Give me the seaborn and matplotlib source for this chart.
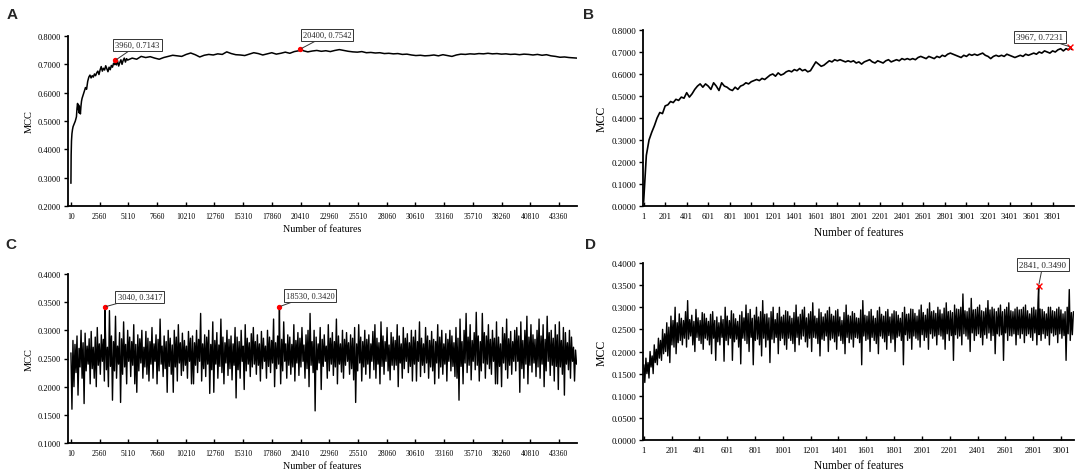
import numpy as np
import matplotlib
matplotlib.use("Agg")
import matplotlib.pyplot as plt
import seaborn as sns
from matplotlib.ticker import FormatStrFormatter

sns.set_theme(style="white")
plt.rcParams["font.family"] = ["Liberation Serif", "DejaVu Serif"]

# ---------------- Panel A data ----------------
a_feat_head = [10, 30, 60, 100, 150, 200, 300, 400, 500,
               550, 600, 650, 700, 750, 800, 850, 900, 950, 1000,
               1100, 1200, 1300, 1400, 1500, 1600, 1700, 1800, 1900, 2000,
               2100, 2200, 2300, 2400, 2500, 2600, 2700, 2800, 2900, 3000,
               3100, 3200, 3300, 3400, 3500, 3600, 3700, 3800, 3900, 3960,
               4050, 4150, 4250, 4350, 4450, 4550, 4650, 4750, 4850, 4950]
a_mcc_head = [0.280, 0.380, 0.430, 0.455, 0.470, 0.480, 0.490, 0.500, 0.515,
              0.545, 0.562, 0.540, 0.556, 0.528, 0.548, 0.525, 0.552, 0.570, 0.580,
              0.592, 0.605, 0.618, 0.612, 0.640, 0.655, 0.662, 0.652, 0.660, 0.655,
              0.666, 0.660, 0.670, 0.676, 0.664, 0.680, 0.692, 0.676, 0.686, 0.680,
              0.695, 0.684, 0.674, 0.690, 0.681, 0.696, 0.690, 0.704, 0.699, 0.7143,
              0.698, 0.712, 0.694, 0.706, 0.716, 0.700, 0.714, 0.722, 0.708, 0.720]
a_feat_tail = list(range(5050, 44651, 400)) + [20400, 44950]
a_mcc_tail = [0.715, 0.722, 0.718, 0.728, 0.724, 0.727, 0.722, 0.718, 0.724, 0.728,
              0.732, 0.730, 0.728, 0.735, 0.740, 0.734, 0.726, 0.732, 0.735, 0.733,
              0.737, 0.735, 0.744, 0.738, 0.734, 0.733, 0.731, 0.736, 0.741, 0.738,
              0.733, 0.737, 0.741, 0.736, 0.739, 0.743, 0.739, 0.745, 0.748, 0.748,
              0.744, 0.747, 0.749, 0.746, 0.748, 0.745, 0.749, 0.752, 0.749, 0.746,
              0.744, 0.743, 0.745, 0.741, 0.742, 0.740, 0.741, 0.738, 0.739, 0.737,
              0.738, 0.735, 0.736, 0.733, 0.731, 0.732, 0.730, 0.731, 0.733, 0.730,
              0.734, 0.731, 0.728, 0.733, 0.736, 0.735, 0.737, 0.736, 0.738, 0.737,
              0.739, 0.737, 0.738, 0.736, 0.737, 0.735, 0.736, 0.734, 0.736, 0.735,
              0.733, 0.735, 0.732, 0.734, 0.730, 0.728, 0.725, 0.726, 0.724, 0.723,
              0.7542, 0.722]
a_peaks_x = [3960, 20400]
a_peaks_y = [0.7143, 0.7542]
a_peak_labels = ["3960, 0.7143", "20400, 0.7542"]

# ---------------- Panel B data ----------------
b_feat_grid = list(range(1, 3952, 25))
b_mcc_grid = [0.020, 0.230, 0.300, 0.335, 0.365, 0.400, 0.425, 0.420, 0.455, 0.460,
              0.475, 0.470, 0.485, 0.480, 0.495, 0.490, 0.515, 0.495, 0.510, 0.530,
              0.545, 0.555, 0.540, 0.555, 0.545, 0.530, 0.560, 0.545, 0.525, 0.560,
              0.545, 0.540, 0.530, 0.525, 0.540, 0.530, 0.545, 0.550, 0.560, 0.555,
              0.565, 0.570, 0.575, 0.570, 0.580, 0.575, 0.585, 0.595, 0.600, 0.590,
              0.605, 0.595, 0.600, 0.610, 0.615, 0.610, 0.620, 0.615, 0.625, 0.615,
              0.620, 0.610, 0.615, 0.635, 0.655, 0.645, 0.635, 0.640, 0.650, 0.660,
              0.655, 0.665, 0.660, 0.665, 0.660, 0.655, 0.660, 0.655, 0.660, 0.650,
              0.655, 0.645, 0.655, 0.660, 0.665, 0.655, 0.650, 0.660, 0.655, 0.650,
              0.660, 0.665, 0.655, 0.660, 0.665, 0.660, 0.670, 0.665, 0.670, 0.665,
              0.670, 0.665, 0.675, 0.680, 0.675, 0.670, 0.680, 0.675, 0.670, 0.680,
              0.675, 0.685, 0.680, 0.690, 0.695, 0.690, 0.685, 0.680, 0.675, 0.685,
              0.680, 0.690, 0.685, 0.690, 0.685, 0.690, 0.695, 0.685, 0.680, 0.670,
              0.680, 0.685, 0.680, 0.685, 0.680, 0.690, 0.685, 0.680, 0.675, 0.680,
              0.685, 0.680, 0.690, 0.685, 0.690, 0.695, 0.690, 0.700, 0.695, 0.705,
              0.700, 0.695, 0.705, 0.700, 0.710, 0.715, 0.705, 0.715, 0.710]
b_feat_extra = [3967, 3976]
b_mcc_extra = [0.7231, 0.712]
b_peaks_x = [3967]
b_peaks_y = [0.7231]
b_peak_labels = ["3967, 0.7231"]

# ---------------- Panel C data (upper and lower swings of the noisy curve) ----------------
c_feat_up = list(range(10, 44831, 180))
c_mcc_up = [
    0.260, 0.282, 0.275, 0.290, 0.268, 0.300, 0.278, 0.295, 0.272, 0.285,
    0.298, 0.270, 0.288, 0.305, 0.276, 0.292, 0.284, 0.300, 0.270, 0.335,
    0.290, 0.280, 0.325, 0.272, 0.296, 0.285, 0.315, 0.275, 0.300, 0.288,
    0.280, 0.310, 0.275, 0.292, 0.285, 0.300, 0.270, 0.298, 0.286, 0.280,
    0.305, 0.276, 0.292, 0.284, 0.320, 0.272, 0.290, 0.280, 0.300, 0.286,
    0.274, 0.300, 0.288, 0.310, 0.278, 0.295, 0.282, 0.272, 0.298, 0.286,
    0.290, 0.278, 0.300, 0.284, 0.330, 0.276, 0.292, 0.288, 0.300, 0.275,
    0.315, 0.282, 0.296, 0.274, 0.320, 0.288, 0.278, 0.300, 0.284, 0.290,
    0.276, 0.305, 0.288, 0.280, 0.300, 0.272, 0.310, 0.286, 0.278, 0.294,
    0.305, 0.280, 0.292, 0.276, 0.298, 0.286, 0.272, 0.300, 0.288, 0.282,
    0.320, 0.278, 0.290, 0.300, 0.284, 0.315, 0.276, 0.292, 0.288, 0.275,
    0.310, 0.282, 0.296, 0.286, 0.305, 0.274, 0.292, 0.300, 0.330, 0.280,
    0.300, 0.288, 0.276, 0.305, 0.284, 0.292, 0.272, 0.310, 0.286, 0.296,
    0.280, 0.320, 0.290, 0.276, 0.300, 0.284, 0.296, 0.278, 0.292, 0.286,
    0.305, 0.276, 0.310, 0.288, 0.280, 0.300, 0.284, 0.292, 0.276, 0.298,
    0.310, 0.286, 0.278, 0.315, 0.290, 0.280, 0.305, 0.274, 0.296, 0.288,
    0.282, 0.310, 0.290, 0.276, 0.305, 0.286, 0.294, 0.278, 0.300, 0.288,
    0.300, 0.280, 0.315, 0.286, 0.276, 0.305, 0.290, 0.282, 0.298, 0.284,
    0.280, 0.310, 0.288, 0.300, 0.276, 0.294, 0.284, 0.300, 0.290, 0.278,
    0.305, 0.286, 0.320, 0.280, 0.300, 0.330, 0.288, 0.310, 0.282, 0.296,
    0.332, 0.290, 0.280, 0.330, 0.296, 0.290, 0.310, 0.284, 0.300, 0.286,
    0.315, 0.288, 0.276, 0.305, 0.294, 0.320, 0.285, 0.298, 0.280, 0.300,
    0.305, 0.290, 0.315, 0.282, 0.300, 0.325, 0.288, 0.310, 0.292, 0.284,
    0.300, 0.320, 0.290, 0.310, 0.284, 0.325, 0.296, 0.300, 0.286, 0.310,
    0.292, 0.315, 0.282, 0.305, 0.296, 0.278, 0.300, 0.288, 0.270, 0.265]
c_feat_low = list(range(100, 44921, 180))
c_mcc_low = [
    0.160, 0.200, 0.225, 0.185, 0.235, 0.215, 0.170, 0.228, 0.240, 0.205,
    0.232, 0.215, 0.200, 0.238, 0.222, 0.245, 0.210, 0.230, 0.200, 0.236,
    0.176, 0.228, 0.215, 0.240, 0.172, 0.222, 0.235, 0.205, 0.245, 0.218,
    0.238, 0.205, 0.190, 0.228, 0.242, 0.215, 0.235, 0.222, 0.210, 0.240,
    0.215, 0.245, 0.205, 0.228, 0.240, 0.218, 0.232, 0.190, 0.236, 0.222,
    0.190, 0.235, 0.210, 0.242, 0.220, 0.228, 0.238, 0.215, 0.245, 0.205,
    0.205, 0.238, 0.225, 0.245, 0.210, 0.232, 0.218, 0.240, 0.188, 0.230,
    0.190, 0.240, 0.215, 0.236, 0.225, 0.205, 0.242, 0.220, 0.232, 0.212,
    0.238, 0.180, 0.230, 0.215, 0.245, 0.195, 0.228, 0.240, 0.218, 0.235,
    0.240, 0.222, 0.238, 0.210, 0.232, 0.245, 0.215, 0.236, 0.225, 0.242,
    0.200, 0.232, 0.240, 0.205, 0.228, 0.245, 0.215, 0.238, 0.222, 0.235,
    0.210, 0.242, 0.220, 0.235, 0.245, 0.215, 0.232, 0.200, 0.238, 0.225,
    0.157, 0.230, 0.242, 0.195, 0.236, 0.245, 0.215, 0.228, 0.240, 0.220,
    0.235, 0.205, 0.240, 0.226, 0.215, 0.238, 0.245, 0.222, 0.232, 0.212,
    0.172, 0.228, 0.242, 0.210, 0.235, 0.222, 0.240, 0.215, 0.245, 0.230,
    0.215, 0.240, 0.205, 0.236, 0.222, 0.245, 0.228, 0.212, 0.238, 0.230,
    0.238, 0.200, 0.242, 0.215, 0.232, 0.245, 0.225, 0.236, 0.210, 0.240,
    0.210, 0.245, 0.218, 0.238, 0.225, 0.242, 0.215, 0.235, 0.228, 0.205,
    0.242, 0.215, 0.235, 0.222, 0.240, 0.210, 0.245, 0.228, 0.236, 0.218,
    0.215, 0.176, 0.236, 0.205, 0.242, 0.225, 0.238, 0.212, 0.245, 0.230,
    0.238, 0.210, 0.228, 0.242, 0.215, 0.240, 0.232, 0.222, 0.245, 0.205,
    0.205, 0.236, 0.200, 0.242, 0.230, 0.215, 0.238, 0.222, 0.245, 0.228,
    0.245, 0.190, 0.232, 0.215, 0.240, 0.205, 0.238, 0.226, 0.242, 0.218,
    0.235, 0.215, 0.240, 0.200, 0.228, 0.245, 0.220, 0.238, 0.210, 0.236,
    0.195, 0.235, 0.222, 0.185, 0.240, 0.230, 0.215, 0.245, 0.210, 0.240]
c_peaks_x = [3040, 18530]
c_peaks_y = [0.3417, 0.3420]
c_peak_labels = ["3040, 0.3417", "18530, 0.3420"]

# ---------------- Panel D data (upper and lower swings of the noisy curve) ----------------
d_feat_up = list(range(1, 3092, 15))
d_mcc_up = [
    0.170, 0.185, 0.175, 0.200, 0.190, 0.215, 0.205, 0.230, 0.225, 0.250,
    0.240, 0.265, 0.255, 0.280, 0.270, 0.300, 0.265, 0.285, 0.275, 0.270,
    0.290, 0.315, 0.272, 0.282, 0.268, 0.295, 0.276, 0.270, 0.288, 0.285,
    0.275, 0.268, 0.284, 0.290, 0.270, 0.278, 0.265, 0.280, 0.272, 0.300,
    0.280, 0.270, 0.292, 0.285, 0.274, 0.268, 0.282, 0.290, 0.276, 0.305,
    0.286, 0.295, 0.275, 0.282, 0.300, 0.278, 0.290, 0.315, 0.284, 0.285,
    0.276, 0.290, 0.300, 0.272, 0.286, 0.300, 0.278, 0.282, 0.292, 0.290,
    0.280, 0.275, 0.288, 0.305, 0.278, 0.284, 0.294, 0.300, 0.276, 0.285,
    0.290, 0.310, 0.280, 0.275, 0.296, 0.288, 0.278, 0.285, 0.292, 0.300,
    0.284, 0.280, 0.292, 0.295, 0.278, 0.270, 0.288, 0.305, 0.282, 0.280,
    0.290, 0.286, 0.276, 0.275, 0.294, 0.315, 0.282, 0.280, 0.290, 0.295,
    0.280, 0.275, 0.292, 0.300, 0.284, 0.280, 0.290, 0.295, 0.278, 0.285,
    0.292, 0.290, 0.282, 0.275, 0.288, 0.300, 0.284, 0.285, 0.296, 0.295,
    0.286, 0.280, 0.294, 0.305, 0.288, 0.282, 0.296, 0.310, 0.290, 0.292,
    0.286, 0.300, 0.294, 0.285, 0.298, 0.310, 0.290, 0.292, 0.288, 0.305,
    0.296, 0.295, 0.300, 0.330, 0.292, 0.290, 0.298, 0.320, 0.294, 0.295,
    0.300, 0.305, 0.292, 0.290, 0.298, 0.315, 0.294, 0.300, 0.296, 0.290,
    0.298, 0.305, 0.290, 0.295, 0.300, 0.310, 0.292, 0.290, 0.296, 0.300,
    0.294, 0.295, 0.300, 0.305, 0.292, 0.285, 0.298, 0.300, 0.294, 0.310,
    0.296, 0.295, 0.290, 0.285, 0.300, 0.300, 0.292, 0.290, 0.296, 0.300,
    0.294, 0.285, 0.290, 0.300, 0.340, 0.288, 0.290]
d_feat_low = list(range(8, 3084, 15))
d_mcc_low = [
    0.130, 0.150, 0.140, 0.165, 0.150, 0.175, 0.170, 0.185, 0.180, 0.195,
    0.200, 0.190, 0.175, 0.215, 0.210, 0.195, 0.220, 0.225, 0.215, 0.230,
    0.210, 0.228, 0.235, 0.215, 0.200, 0.232, 0.225, 0.218, 0.205, 0.230,
    0.226, 0.215, 0.195, 0.230, 0.180, 0.222, 0.215, 0.232, 0.178, 0.225,
    0.215, 0.230, 0.180, 0.222, 0.228, 0.210, 0.172, 0.230, 0.225, 0.218,
    0.200, 0.232, 0.170, 0.225, 0.228, 0.215, 0.190, 0.230, 0.210, 0.226,
    0.175, 0.228, 0.220, 0.232, 0.195, 0.225, 0.230, 0.215, 0.205, 0.230,
    0.225, 0.218, 0.200, 0.232, 0.215, 0.228, 0.235, 0.222, 0.210, 0.230,
    0.200, 0.232, 0.230, 0.218, 0.190, 0.228, 0.225, 0.235, 0.200, 0.226,
    0.230, 0.222, 0.205, 0.235, 0.225, 0.218, 0.195, 0.232, 0.220, 0.228,
    0.210, 0.232, 0.230, 0.220, 0.170, 0.235, 0.225, 0.228, 0.200, 0.232,
    0.225, 0.218, 0.195, 0.235, 0.230, 0.222, 0.205, 0.236, 0.220, 0.228,
    0.200, 0.232, 0.235, 0.225, 0.170, 0.238, 0.225, 0.230, 0.205, 0.235,
    0.230, 0.226, 0.210, 0.238, 0.225, 0.232, 0.205, 0.240, 0.230, 0.235,
    0.215, 0.238, 0.235, 0.228, 0.205, 0.240, 0.225, 0.236, 0.180, 0.238,
    0.230, 0.235, 0.215, 0.240, 0.235, 0.228, 0.200, 0.242, 0.225, 0.236,
    0.240, 0.232, 0.215, 0.238, 0.230, 0.242, 0.225, 0.236, 0.195, 0.240,
    0.235, 0.238, 0.180, 0.242, 0.225, 0.236, 0.235, 0.240, 0.215, 0.238,
    0.230, 0.240, 0.220, 0.236, 0.240, 0.232, 0.225, 0.242, 0.215, 0.238,
    0.225, 0.240, 0.230, 0.236, 0.215, 0.242, 0.235, 0.238, 0.220, 0.240,
    0.230, 0.236, 0.180, 0.240, 0.225, 0.238]
d_peaks_x = [2841]
d_peaks_y = [0.3490]
d_peak_labels = ["2841, 0.3490"]

# ---------------- tick labels ----------------
ac_xticks = list(range(10, 43361, 2550))
b_xticks = list(range(1, 3802, 200))
d_xticks = list(range(1, 3002, 200))
a_yticks = [0.2, 0.3, 0.4, 0.5, 0.6, 0.7, 0.8]
b_yticks = [0.0, 0.1, 0.2, 0.3, 0.4, 0.5, 0.6, 0.7, 0.8]
c_yticks = [0.10, 0.15, 0.20, 0.25, 0.30, 0.35, 0.40]
d_yticks = [0.00, 0.05, 0.10, 0.15, 0.20, 0.25, 0.30, 0.35, 0.40]


def merged(xs, ys):
    xs = np.asarray(xs, dtype=float)
    ys = np.asarray(ys, dtype=float)
    order = np.argsort(xs, kind="stable")
    return xs[order], ys[order]


fig = plt.figure(figsize=(10.84, 4.77), dpi=100)
fig.patch.set_facecolor("white")
W, H = 1084.0, 477.0


def add_ax(left, right, top, bottom):
    return fig.add_axes([left / W, 1 - bottom / H, (right - left) / W, (bottom - top) / H])


axA = add_ax(68, 577, 37, 207)
axB = add_ax(643, 1074, 31, 207)
axC = add_ax(68, 577, 275, 444)
axD = add_ax(643, 1074, 264, 441)


def style(ax, xticks, xlim, yticks, xfs, yfs, labfs, ylabfs, xlabpad):
    ax.set_facecolor("white")
    ax.set_xlim(*xlim)
    ax.set_ylim(yticks[0], yticks[-1])
    ax.set_xticks(xticks)
    ax.set_xticklabels([str(t) for t in xticks], fontsize=xfs)
    ax.set_yticks(yticks)
    ax.yaxis.set_major_formatter(FormatStrFormatter("%.4f"))
    for lab in ax.get_yticklabels():
        lab.set_fontsize(yfs)
    for s in ["top", "right"]:
        ax.spines[s].set_visible(False)
    for s in ["left", "bottom"]:
        ax.spines[s].set_visible(True)
        ax.spines[s].set_color("black")
        ax.spines[s].set_linewidth(1.3)
    ax.tick_params(axis="x", direction="in", length=3, width=1, pad=4, colors="black", bottom=True)
    ax.tick_params(axis="y", direction="out", length=3, width=1, pad=2, colors="black", left=True)
    ax.grid(False)
    ax.set_xlabel("Number of features", fontsize=labfs, labelpad=xlabpad, color="black")
    ax.set_ylabel("MCC", fontsize=ylabfs, labelpad=3, color="black")


def annotate(ax, px, py, labels, offsets, fs, marker, ms):
    ax.scatter(px, py, color="red", marker=marker, s=ms, zorder=5, linewidths=1.0)
    for x, y, lab, off in zip(px, py, labels, offsets):
        ax.annotate(lab, xy=(x, y), xytext=off, textcoords="offset points",
                    fontsize=fs, ha="center", va="center",
                    bbox=dict(boxstyle="square,pad=0.25", fc="white", ec="#333333", lw=0.7),
                    arrowprops=dict(arrowstyle="-", color="#333333", lw=0.7,
                                    shrinkA=0, shrinkB=1), zorder=6)


# Panel A
ax_, ay_ = merged(a_feat_head + a_feat_tail, a_mcc_head + a_mcc_tail)
sns.lineplot(x=ax_, y=ay_, ax=axA, color="black", linewidth=1.1, estimator=None, sort=False)
style(axA, ac_xticks, (-250, 44960), a_yticks, 5.5, 6, 7.2, 7.5, 3)
annotate(axA, a_peaks_x, a_peaks_y, a_peak_labels, [(16, 11), (19, 10)], 6, "o", 8)

# Panel B
bx_, by_ = merged(b_feat_grid + b_feat_extra, b_mcc_grid + b_mcc_extra)
sns.lineplot(x=bx_, y=by_, ax=axB, color="black", linewidth=1.2, estimator=None, sort=False)
style(axB, b_xticks, (-5, 4000), b_yticks, 6.2, 6.5, 8.3, 8.5, 5)
annotate(axB, b_peaks_x, b_peaks_y, b_peak_labels, [(-22, 7)], 6.5, "x", 18)

# Panel C
cx_, cy_ = merged(c_feat_up + c_feat_low + c_peaks_x, c_mcc_up + c_mcc_low + c_peaks_y)
sns.lineplot(x=cx_, y=cy_, ax=axC, color="black", linewidth=1.0, estimator=None, sort=False)
style(axC, ac_xticks, (-250, 44960), c_yticks, 5.5, 6, 7.2, 7.5, 3)
annotate(axC, c_peaks_x, c_peaks_y, c_peak_labels, [(25, 7), (22, 8)], 6, "o", 8)

# Panel D
dx_, dy_ = merged(d_feat_up + d_feat_low + d_peaks_x, d_mcc_up + d_mcc_low + d_peaks_y)
sns.lineplot(x=dx_, y=dy_, ax=axD, color="black", linewidth=1.0, estimator=None, sort=False)
style(axD, d_xticks, (-5, 3095), d_yticks, 6.2, 6.5, 8.3, 8.5, 4)
annotate(axD, d_peaks_x, d_peaks_y, d_peak_labels, [(3, 15)], 6.5, "x", 18)

# Panel letters
for letter, (x, y) in zip("ABCD", [(12, 15), (588, 15), (11, 245), (591, 245)]):
    fig.text(x / W, 1 - y / H, letter, fontsize=11, fontweight="bold",
             family=["Liberation Sans", "DejaVu Sans"], ha="center", va="center")

fig.savefig("out.png", dpi=100, facecolor="white")
